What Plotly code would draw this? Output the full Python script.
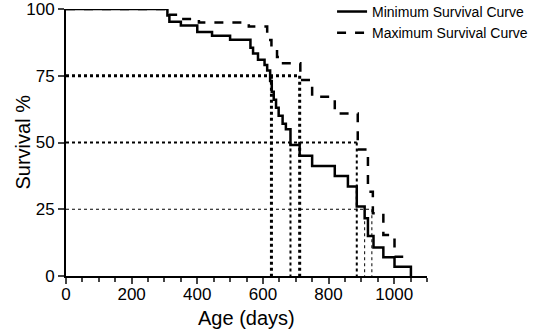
import plotly.graph_objects as go

# Minimum survival curve (step, hv)
min_days = [0, 309, 315, 350, 400, 445, 500, 562, 570, 585, 605, 613, 622, 627, 633, 640, 648, 660, 670, 684, 712, 750, 819, 859, 886, 910, 920, 937, 967, 1001, 1051]
min_surv = [100, 97.6, 95.2, 93.8, 91.4, 90.0, 88.5, 85.5, 83.3, 81.0, 79.0, 77.0, 73.0, 69.0, 66.0, 63.0, 60.0, 57.0, 55.0, 49.1, 45.0, 41.2, 37.5, 33.5, 26.0, 21.6, 15.0, 10.7, 7.0, 3.5, 0]

# Maximum survival curve (step, hv)
max_days = [0, 314, 349, 405, 557, 613, 626, 643, 656, 714, 750, 819, 889, 920, 935, 967, 1001, 1051]
max_surv = [100, 97.8, 96.3, 94.9, 93.4, 88.4, 85.0, 82.0, 79.7, 73.4, 67.1, 60.9, 47.4, 31.6, 23.5, 15.4, 7.2, 7.2]

# Reference survival levels and crossing ages
ref_levels = [75, 50, 25]
ref_min_cross = [626, 684, 910]
ref_max_cross = [712, 886, 932]
ref_widths = [3, 2, 1]

x_tick_vals = [0, 200, 400, 600, 800, 1000]
y_tick_vals = [0, 25, 50, 75, 100]

fig = go.Figure()

for lvl, a, b, w in zip(ref_levels, ref_min_cross, ref_max_cross, ref_widths):
    fig.add_trace(go.Scatter(
        x=[0, b, None, a, a, None, b, b],
        y=[lvl, lvl, None, lvl, 0, None, lvl, 0],
        mode="lines", line=dict(color="black", width=w, dash="dot"),
        showlegend=False, hoverinfo="skip", cliponaxis=False))

fig.add_trace(go.Scatter(x=min_days, y=min_surv, mode="lines", line_shape="hv",
                         line=dict(color="black", width=2.5),
                         name="Minimum Survival Curve", cliponaxis=False))
fig.add_trace(go.Scatter(x=max_days, y=max_surv, mode="lines", line_shape="hv",
                         line=dict(color="black", width=2.5, dash="dash"),
                         name="Maximum Survival Curve", cliponaxis=False))

font_family = "Liberation Sans, Arial, sans-serif"
fig.update_layout(
    width=533, height=335,
    margin=dict(l=66, r=106, t=9, b=59, autoexpand=False),
    paper_bgcolor="white", plot_bgcolor="white",
    font=dict(family=font_family, color="black"),
    legend=dict(x=0.737, y=1.049, xanchor="left", yanchor="top",
                font=dict(size=14), bgcolor="rgba(0,0,0,0)",
                tracegroupgap=0),
    xaxis=dict(range=[0, 1100], tickvals=x_tick_vals, ticks="outside",
               ticklen=6, tickwidth=1.5, showline=True, linecolor="black",
               linewidth=2, showgrid=False, zeroline=False, automargin=False,
               tickfont=dict(size=17), ticklabeloverflow="allow", ticklabelstandoff=-4,
               minor=dict(dtick=50, ticks="outside", ticklen=4, tickwidth=1.5, showgrid=False)),
    yaxis=dict(range=[0, 100], tickvals=y_tick_vals, ticks="outside",
               ticklen=6, tickwidth=1.5, showline=True, linecolor="black",
               linewidth=2, showgrid=False, zeroline=False, automargin=False,
               tickfont=dict(size=17), ticklabeloverflow="allow"),
    annotations=[
        dict(text="Age (days)", xref="paper", yref="paper", x=0.5, y=-42 / 267,
             xanchor="center", yanchor="middle", showarrow=False, font=dict(size=20)),
        dict(text="Survival %", xref="paper", yref="paper", x=-44 / 361, y=0.5,
             xanchor="center", yanchor="middle", textangle=-90, showarrow=False,
             font=dict(size=20)),
    ],
)

fig.write_html("out.html", config={"displayModeBar": False},
               post_script="document.body.style.margin='0';document.body.style.overflow='hidden';")
